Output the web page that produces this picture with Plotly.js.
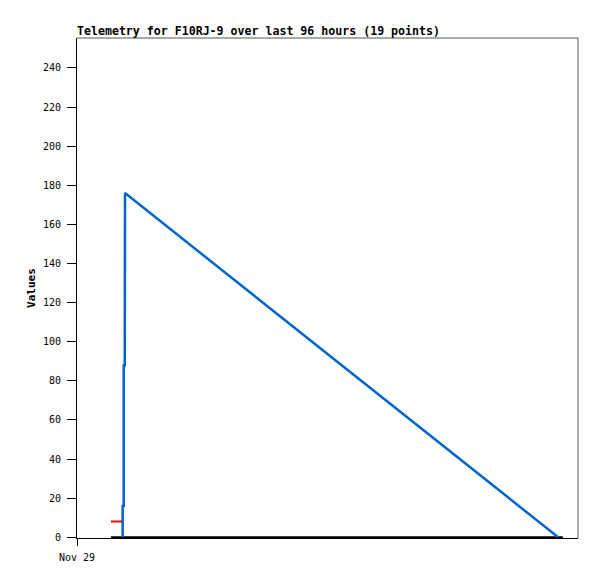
<!DOCTYPE html>
<html><head><meta charset="utf-8">
<script src="https://cdn.plot.ly/plotly-3.0.1.min.js"></script>
<style>html,body{margin:0;padding:0;background:#fff}#c{width:597px;height:579px}</style>
</head><body><div id="c"></div>
<script>
// hours since Nov 29 00:00
const redX = [6.5, 8.6, 8.8];
const redY = [8, 8, 9];
const blackX = [6.5, 93.1];
const blackY = [0, 0];
const blueX = [8.75, 8.75, 8.95, 8.95, 9.15, 9.2, 92.2];
const blueY = [0, 16, 16, 88, 88, 176, 0];
const xTickVals = [0];
const xTickText = ["Nov 29"];
const yTickVals = [0,20,40,60,80,100,120,140,160,180,200,220,240];

const mono = "DejaVu Sans Mono, Liberation Mono, monospace";
const traces = [
  {x: blackX, y: blackY, mode: 'lines', line: {color: '#000000', width: 2}, hoverinfo: 'skip'},
  {x: redX, y: redY, mode: 'lines', line: {color: '#ff0000', width: 2}, hoverinfo: 'skip'},
  {x: blueX, y: blueY, mode: 'lines', line: {color: '#0066cc', width: 2.5}, hoverinfo: 'skip'}
];
const layout = {
  width: 597, height: 579,
  margin: {l: 77, r: 19, t: 38, b: 41},
  paper_bgcolor: '#fff', plot_bgcolor: '#fff',
  showlegend: false,
  title: {text: '<b>Telemetry for F10RJ-9 over last 96 hours (19 points)</b>',
    x: 77/597, xref: 'container', xanchor: 'left',
    y: 1 - 31/579, yref: 'container', yanchor: 'middle',
    font: {family: mono, size: 11.6, color: '#000'}},
  xaxis: {range: [0, 96], tickvals: xTickVals, ticktext: xTickText,
    showgrid: false, zeroline: false, showline: true, linecolor: '#000', linewidth: 1,
    ticks: 'outside', ticklen: 7, tickcolor: '#000', tickwidth: 1, ticklabelstandoff: 3,
    tickfont: {family: mono, size: 10, color: '#000'}, fixedrange: true},
  yaxis: {range: [-0.4, 255.3], tickvals: yTickVals,
    showgrid: false, zeroline: false, showline: true, linecolor: '#000', linewidth: 1,
    ticks: 'outside', ticklen: 9, tickcolor: '#000', tickwidth: 1, ticklabelstandoff: 4,
    tickfont: {family: mono, size: 10, color: '#000'},
    title: {text: '<b>Values</b>', font: {family: mono, size: 11, color: '#000'}, standoff: 5},
    fixedrange: true},
  shapes: [
    {type: 'line', xref: 'paper', yref: 'paper', x0: 0, x1: 1, y0: 1, y1: 1, line: {color: '#555', width: 1}},
    {type: 'line', xref: 'paper', yref: 'paper', x0: 1, x1: 1, y0: 0, y1: 1, line: {color: '#555', width: 1}}
  ]
};
Plotly.newPlot('c', traces, layout, {displayModeBar: false, staticPlot: true});
</script></body></html>
